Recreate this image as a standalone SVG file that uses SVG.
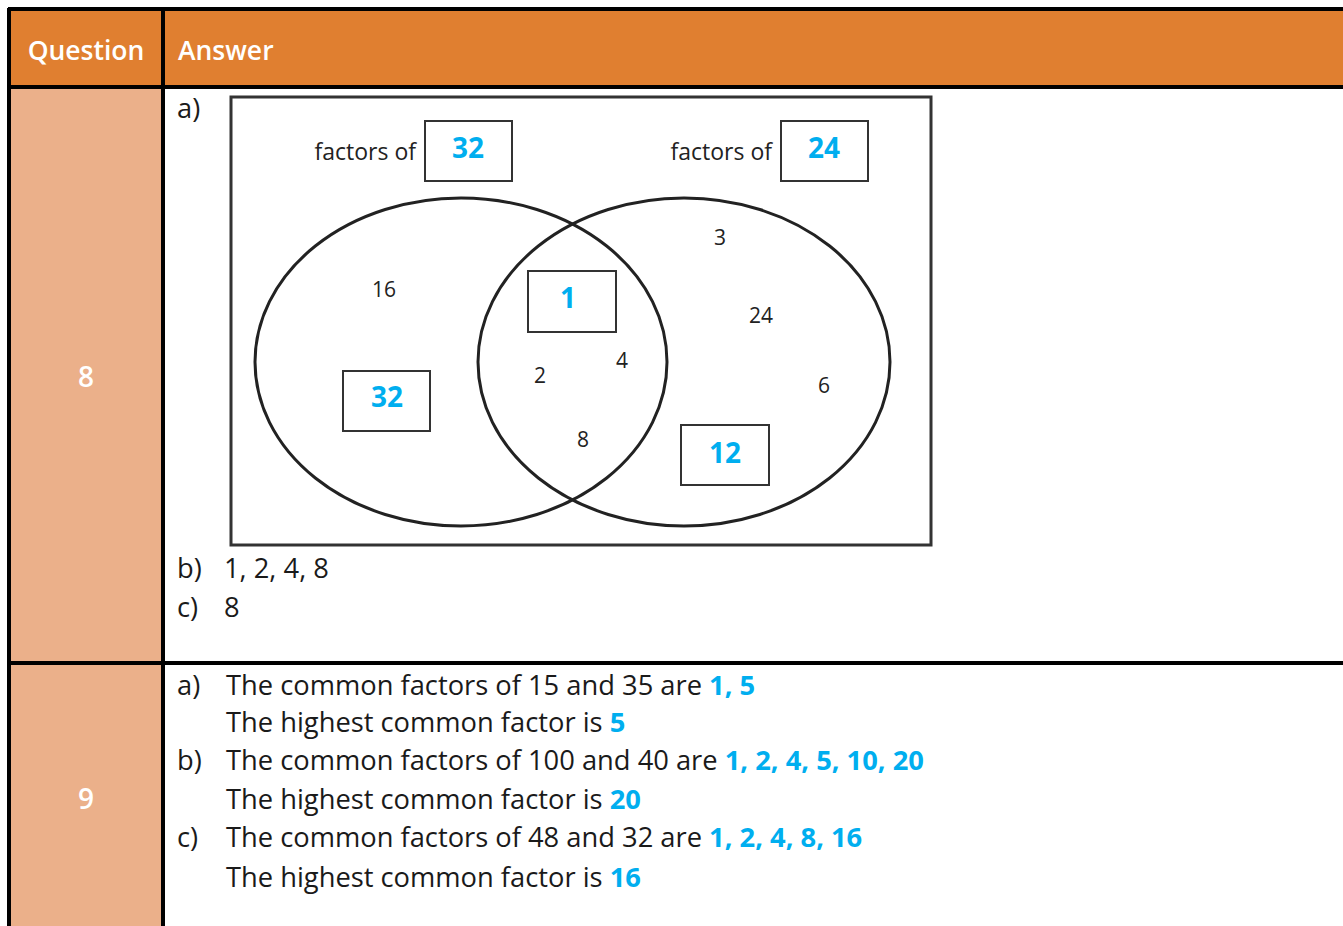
<svg xmlns="http://www.w3.org/2000/svg" width="1343" height="926" viewBox="0 0 1343 926">
<style>
.hdr{font-family:"Open Sans","Liberation Sans",sans-serif;font-size:26.5px;font-weight:600;fill:#fff}
.qn{font-family:"Open Sans","Liberation Sans",sans-serif;font-size:28px;font-weight:600;fill:#fff;text-anchor:middle}
.t{font-family:"Open Sans","Liberation Sans",sans-serif;font-size:27.3px;fill:#1a1a1a}
.s{font-family:"Open Sans","Liberation Sans",sans-serif;font-size:23px;fill:#222}
.n{font-family:"Open Sans","Liberation Sans",sans-serif;font-size:21px;fill:#222;text-anchor:middle}
.b{font-family:"Open Sans","Liberation Sans",sans-serif;font-weight:700;fill:#00AEEF}
.bx{fill:#fff;stroke:#333;stroke-width:2}
.el{fill:none;stroke:#222;stroke-width:3}
</style>
<g id="table">
<rect x="8" y="8" width="1340" height="80" fill="#E07F30"/>
<rect x="8" y="88" width="155" height="840" fill="#EBB08A"/>
<g stroke="#000" stroke-width="4" fill="none">
<line x1="8" y1="9" x2="1343" y2="9"/>
<line x1="9" y1="8" x2="9" y2="926"/>
<line x1="8" y1="87" x2="1343" y2="87"/>
<line x1="163" y1="8" x2="163" y2="926"/>
<line x1="8" y1="663" x2="1343" y2="663"/>
</g>
<text class="hdr" x="86" y="60" text-anchor="middle">Question</text>
<text class="hdr" x="178" y="60">Answer</text>
<text class="qn" x="86" y="387">8</text>
<text class="qn" x="86" y="809">9</text>
</g>
<g id="venn">
<rect x="231" y="97" width="700" height="448" fill="none" stroke="#333" stroke-width="3"/>
<ellipse class="el" cx="461" cy="362" rx="206" ry="164"/>
<ellipse class="el" cx="684" cy="362" rx="206" ry="164"/>
<text class="s" x="416" y="160" text-anchor="end">factors of</text>
<text class="s" x="772" y="160" text-anchor="end">factors of</text>
<rect class="bx" x="425" y="121" width="87" height="60"/>
<text class="b" x="468" y="158" font-size="28" text-anchor="middle">32</text>
<rect class="bx" x="781" y="121" width="87" height="60"/>
<text class="b" x="824" y="158" font-size="28" text-anchor="middle">24</text>
<rect class="bx" x="528" y="271" width="88" height="61"/>
<text class="b" x="568" y="308" font-size="28" text-anchor="middle">1</text>
<rect class="bx" x="343" y="371" width="87" height="60"/>
<text class="b" x="387" y="407" font-size="28" text-anchor="middle">32</text>
<rect class="bx" x="681" y="425" width="88" height="60"/>
<text class="b" x="725" y="463" font-size="28" text-anchor="middle">12</text>
<text class="n" x="384" y="297">16</text>
<text class="n" x="720" y="245">3</text>
<text class="n" x="761" y="323">24</text>
<text class="n" x="540" y="383">2</text>
<text class="n" x="622" y="368">4</text>
<text class="n" x="583" y="447">8</text>
<text class="n" x="824" y="393">6</text>
</g>
<g id="answers8">
<text class="t" x="177" y="118">a)</text>
<text class="t" x="177" y="578">b)</text>
<text class="t" x="224" y="578">1, 2, 4, 8</text>
<text class="t" x="177" y="617">c)</text>
<text class="t" x="224" y="617">8</text>
</g>
<g id="answers9">
<text class="t" x="177" y="695">a)</text>
<text class="t" x="226" y="695">The common factors of 15 and 35 are <tspan class="b">1, 5</tspan></text>
<text class="t" x="226" y="732">The highest common factor is <tspan class="b">5</tspan></text>
<text class="t" x="177" y="770">b)</text>
<text class="t" x="226" y="770">The common factors of 100 and 40 are <tspan class="b">1, 2, 4, 5, 10, 20</tspan></text>
<text class="t" x="226" y="809">The highest common factor is <tspan class="b">20</tspan></text>
<text class="t" x="177" y="847">c)</text>
<text class="t" x="226" y="847">The common factors of 48 and 32 are <tspan class="b">1, 2, 4, 8, 16</tspan></text>
<text class="t" x="226" y="887">The highest common factor is <tspan class="b">16</tspan></text>
</g>
</svg>
